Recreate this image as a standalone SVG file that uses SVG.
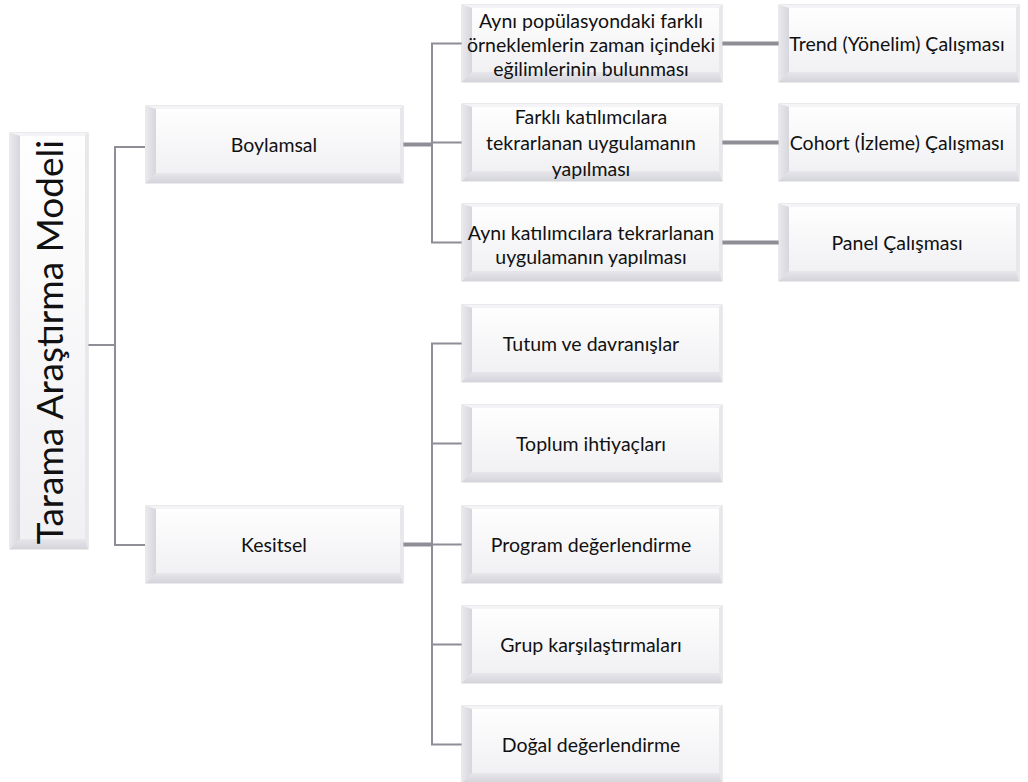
<svg xmlns="http://www.w3.org/2000/svg" xmlns:xlink="http://www.w3.org/1999/xlink" width="1028" height="782" viewBox="0 0 1028 782">
<style>
.t{font-family:Lato,"Open Sans","Liberation Sans",sans-serif;font-size:19.5px;fill:#111;text-anchor:middle;dominant-baseline:central}
.root{font-size:37px}
.c{fill:none;stroke:#8e8e96;stroke-width:2}
.ck{fill:none;stroke:#8e8e96;stroke-width:4}
.ob{fill:#e2e2e6;stroke:#d6d6da;stroke-width:1}
.tp{fill:#f4f4f7}
.lf{fill:url(#gl)}
.bt{fill:url(#gb)}
.rt{fill:#e8e8ec}
.fc{fill:url(#gf)}
</style>
<defs>
<linearGradient id="gf" x1="0" y1="0" x2="0" y2="1"><stop offset="0" stop-color="#fefefe"/><stop offset="1" stop-color="#f1f1f4"/></linearGradient>
<linearGradient id="gl" x1="0" y1="0" x2="1" y2="0"><stop offset="0" stop-color="#e8e8ed"/><stop offset="1" stop-color="#d6d6dd"/></linearGradient>
<linearGradient id="gb" x1="0" y1="0" x2="0" y2="1"><stop offset="0" stop-color="#e6e6eb"/><stop offset="1" stop-color="#d4d4db"/></linearGradient>
<g id="b1">
<rect class="ob" x="0" y="0" width="257" height="77"/>
<polygon class="tp" points="0,0 257,0 254,3 10,3"/>
<polygon class="lf" points="0,0 10,3 10,67 0,77"/>
<polygon class="bt" points="0,77 10,67 254,67 257,77"/>
<polygon class="rt" points="257,0 257,77 254,67 254,3"/>
<rect class="fc" x="10" y="3" width="244" height="64"/>
</g>
<g id="b2">
<rect class="ob" x="0" y="0" width="260" height="77"/>
<polygon class="tp" points="0,0 260,0 257,3 10,3"/>
<polygon class="lf" points="0,0 10,3 10,67 0,77"/>
<polygon class="bt" points="0,77 10,67 257,67 260,77"/>
<polygon class="rt" points="260,0 260,77 257,67 257,3"/>
<rect class="fc" x="10" y="3" width="247" height="64"/>
</g>
<g id="b3">
<rect class="ob" x="0" y="0" width="240" height="77"/>
<polygon class="tp" points="0,0 240,0 237,3 10,3"/>
<polygon class="lf" points="0,0 10,3 10,67 0,77"/>
<polygon class="bt" points="0,77 10,67 237,67 240,77"/>
<polygon class="rt" points="240,0 240,77 237,67 237,3"/>
<rect class="fc" x="10" y="3" width="227" height="64"/>
</g>
</defs>
<rect width="1028" height="782" fill="#ffffff"/>
<g id="connectors">
<path class="c" d="M88 345H115M145 147H115V545H145"/>
<path class="ck" d="M403 144.5H432"/>
<path class="c" d="M462 43.5H432V242.5H462M432 142.5H462"/>
<path class="ck" d="M722 43.5H779M722 142.5H779M722 242.5H779"/>
<path class="ck" d="M403 544.5H432"/>
<path class="c" d="M462 343.5H432V744.5H462M432 443.5H462M432 544.5H462M432 644.5H462"/>
</g>
<g id="root">
<rect class="ob" x="10" y="133" width="78" height="416"/>
<polygon class="tp" points="10,133 88,133 85,136 20,136"/>
<polygon class="lf" points="10,133 20,136 20,539 10,549"/>
<polygon class="bt" points="10,549 20,539 85,539 88,549"/>
<polygon class="rt" points="88,133 88,549 85,539 85,136"/>
<rect class="fc" x="20" y="136" width="65" height="403"/>
<text class="t root" transform="translate(48 342) rotate(-90)">Tarama Araştırma Modeli</text>
</g>
<g id="boylamsal"><use xlink:href="#b1" x="146" y="106"/><text class="t" x="274" y="144.5">Boylamsal</text></g>
<g id="kesitsel"><use xlink:href="#b1" x="146" y="506"/><text class="t" x="274" y="544.5">Kesitsel</text></g>
<g id="b-1"><use xlink:href="#b2" x="462" y="5"/><text class="t" x="591"><tspan x="591" y="20">Aynı popülasyondaki farklı</tspan><tspan x="591" y="44">örneklemlerin zaman içindeki</tspan><tspan x="591" y="68">eğilimlerinin bulunması</tspan></text></g>
<g id="b-2"><use xlink:href="#b2" x="462" y="104"/><text class="t" x="591"><tspan x="591" y="116">Farklı katılımcılara</tspan><tspan x="591" y="142">tekrarlanan uygulamanın</tspan><tspan x="591" y="168">yapılması</tspan></text></g>
<g id="b-3"><use xlink:href="#b2" x="462" y="204"/><text class="t" x="591"><tspan x="591" y="232">Aynı katılımcılara tekrarlanan</tspan><tspan x="591" y="256">uygulamanın yapılması</tspan></text></g>
<g id="trend"><use xlink:href="#b3" x="779" y="5"/><text class="t" x="897" y="43.5">Trend (Yönelim) Çalışması</text></g>
<g id="cohort"><use xlink:href="#b3" x="779" y="104"/><text class="t" x="897" y="142.5">Cohort (İzleme) Çalışması</text></g>
<g id="panel"><use xlink:href="#b3" x="779" y="204"/><text class="t" x="897" y="242.5">Panel Çalışması</text></g>
<g id="k-1"><use xlink:href="#b2" x="462" y="305"/><text class="t" x="591" y="343.5">Tutum ve davranışlar</text></g>
<g id="k-2"><use xlink:href="#b2" x="462" y="405"/><text class="t" x="591" y="443.5">Toplum ihtiyaçları</text></g>
<g id="k-3"><use xlink:href="#b2" x="462" y="506"/><text class="t" x="591" y="544.5">Program değerlendirme</text></g>
<g id="k-4"><use xlink:href="#b2" x="462" y="606"/><text class="t" x="591" y="644.5">Grup karşılaştırmaları</text></g>
<g id="k-5"><use xlink:href="#b2" x="462" y="706"/><text class="t" x="591" y="744.5">Doğal değerlendirme</text></g>
</svg>
